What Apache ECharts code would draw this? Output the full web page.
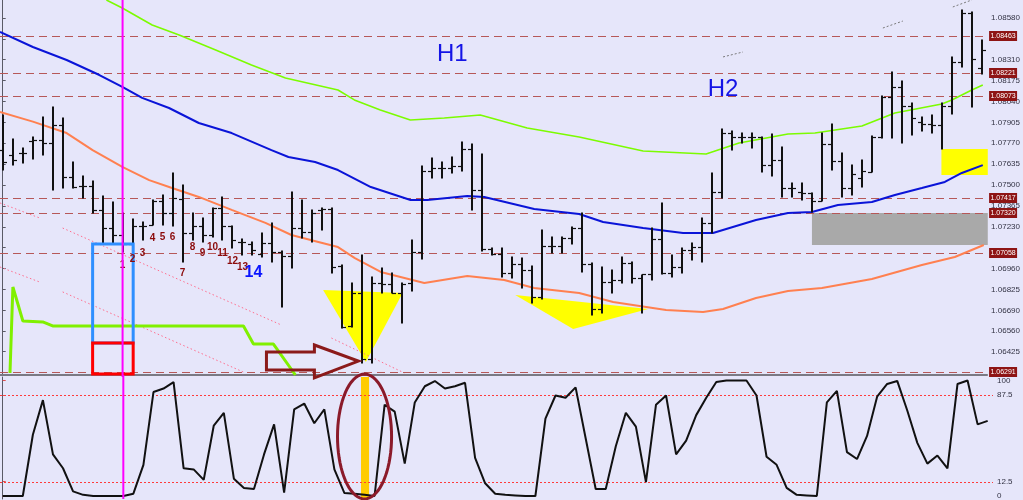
<!DOCTYPE html>
<html><head><meta charset="utf-8">
<script src="https://cdn.jsdelivr.net/npm/echarts@6/dist/echarts.min.js"></script>
<style>html,body{margin:0;padding:0;background:#e6e6fa;overflow:hidden}#c{width:1023px;height:500px}</style>
</head><body><div id="c"></div>
<script>
// ---------- DATA ----------
const opens = [1.07726,1.07694,1.07707,1.07785,1.07791,1.07772,1.07888,1.07552,1.07494,1.07494,
1.07339,1.07222,1.07177,1.07119,1.07235,1.07242,1.07397,1.07319,1.07410,1.07190,
1.07235,1.07177,1.07351,1.07235,1.07132,1.07119,1.07054,1.07125,1.07067,1.07041,
1.07222,1.07196,1.07339,1.07345,1.06977,1.06589,1.06802,1.06375,1.06867,1.06860,
1.06802,1.06867,1.07067,1.07591,1.07610,1.07610,1.07623,1.07733,1.07468,1.07086,
1.07054,1.06931,1.06989,1.06951,1.06776,1.07106,1.07106,1.07158,1.07222,1.06989,
1.06699,1.06873,1.06886,1.06996,1.06899,1.06925,1.07151,1.06931,1.06970,1.07080,
1.07099,1.07255,1.07455,1.07836,1.07810,1.07810,1.07810,1.07629,1.07662,1.07481,
1.07455,1.07448,1.07397,1.07765,1.07655,1.07481,1.07545,1.07584,1.07810,1.08069,
1.08134,1.08011,1.07907,1.07894,1.07888,1.08011,1.08295,1.08612,1.08256];
const highs = [1.07953,1.07798,1.07739,1.07810,1.07940,1.08004,1.07933,1.07649,1.07558,1.07526,
1.07429,1.07390,1.07319,1.07280,1.07261,1.07403,1.07436,1.07578,1.07500,1.07319,
1.07287,1.07351,1.07423,1.07235,1.07151,1.07132,1.07190,1.07255,1.07074,1.07455,
1.07403,1.07339,1.07351,1.07351,1.06983,1.06867,1.07048,1.06905,1.06964,1.06931,
1.06867,1.07145,1.07623,1.07675,1.07649,1.07681,1.07778,1.07765,1.07701,1.07093,
1.07093,1.07035,1.07028,1.06977,1.07209,1.07164,1.07164,1.07229,1.07319,1.06996,
1.06970,1.06951,1.07035,1.07002,1.06918,1.07222,1.07384,1.07048,1.07093,1.07125,
1.07287,1.07578,1.07862,1.07849,1.07836,1.07836,1.07810,1.07830,1.07746,1.07513,
1.07513,1.07448,1.07836,1.07894,1.07707,1.07629,1.07662,1.07817,1.08075,1.08231,
1.08172,1.08030,1.07940,1.07953,1.08030,1.08328,1.08631,1.08618,1.08437];
const lows = [1.07597,1.07629,1.07642,1.07668,1.07694,1.07468,1.07481,1.07481,1.07416,1.07319,
1.07125,1.07125,1.07067,1.07119,1.07145,1.07242,1.07242,1.07235,1.07002,1.07145,
1.07132,1.07164,1.07145,1.07093,1.07048,1.07048,1.07035,1.07002,1.06712,1.06964,
1.07158,1.07132,1.07209,1.06931,1.06576,1.06582,1.06350,1.06350,1.06802,1.06802,
1.06608,1.06815,1.07022,1.07545,1.07545,1.07578,1.07591,1.07339,1.07074,1.07048,
1.06905,1.06899,1.06834,1.06737,1.06763,1.07061,1.07061,1.07119,1.06938,1.06660,
1.06673,1.06802,1.06867,1.06867,1.06673,1.06886,1.06925,1.06905,1.06931,1.07015,
1.07002,1.07190,1.07416,1.07726,1.07772,1.07739,1.07584,1.07558,1.07423,1.07423,
1.07403,1.07326,1.07397,1.07597,1.07423,1.07436,1.07487,1.07584,1.07804,1.07804,
1.07772,1.07823,1.07849,1.07836,1.07733,1.07959,1.08263,1.08004,1.08218];
const closes = [1.07649,1.07662,1.07707,1.07791,1.07772,1.07888,1.07552,1.07487,1.07494,1.07339,
1.07222,1.07177,1.07119,1.07235,1.07235,1.07397,1.07319,1.07416,1.07190,1.07235,
1.07177,1.07351,1.07235,1.07145,1.07132,1.07080,1.07125,1.07067,1.07041,1.07222,
1.07196,1.07319,1.07345,1.06970,1.06582,1.06802,1.06375,1.06867,1.06860,1.06802,
1.06860,1.07067,1.07591,1.07610,1.07610,1.07623,1.07733,1.07468,1.07086,1.07054,
1.06931,1.06989,1.06951,1.06776,1.07106,1.07106,1.07158,1.07222,1.06989,1.06699,
1.06873,1.06886,1.06996,1.06899,1.06925,1.07151,1.06931,1.06970,1.07080,1.07099,
1.07255,1.07455,1.07836,1.07810,1.07810,1.07810,1.07629,1.07662,1.07481,1.07481,
1.07448,1.07397,1.07765,1.07655,1.07481,1.07571,1.07591,1.07810,1.08069,1.08134,
1.08011,1.07933,1.07894,1.07888,1.08011,1.08295,1.08612,1.08315,1.08373];
const stoch = [0,0,0,53,83,36,24,4,1,0,
0,0,0,2,27,90,93,98.5,24,23,
14,61,72,15,7,6,36,62,3,75,
80,63,75,23,2.5,2,1,0,79,73,
28,81,95,99.5,93,95,98,33,11,2,
1,0.5,0,0,67,87,85,94,50,6,
6,43,72,60,12,79,87,36,48,70,
85,98.7,100,100,100,87,34,27,7,1,
0.5,0,81,91,38,32,52,86,97,99.6,
74,46,28,35,24,97,100,62,65];

// moving averages: bar positions and values
const blueX = [-0.27,3.02,6.4,9.68,11.97,13.96,16.65,19.63,22.92,26.9,28.6,31.27,33.56,36.85,40.82,42.5,46.5,48.2,53.2,57.7,60.1,64.1,68.1,71.1,75.4,78.6,81.0,83.6,87.0,89.3,92.0,94.3,96.0,98.1];
const blueY = [1.08489,1.08392,1.08308,1.08211,1.08134,1.08063,1.07998,1.07901,1.07836,1.07726,1.07681,1.07649,1.07597,1.07487,1.07403,1.07403,1.07429,1.07423,1.07345,1.07313,1.07261,1.07222,1.07190,1.07190,1.07274,1.07319,1.07326,1.07371,1.07390,1.07436,1.07481,1.07520,1.07578,1.07629];
const greenX = [10.38,11.97,14.96,17.66,21.32,24.9,28.3,33.56,35.2,37.8,40.8,44.2,47.8,52.5,57.7,64.1,70.4,73.7,78.6,81.3,86.0,89.3,94.0,95.0,97.0,98.1];
const greenY = [1.08696,1.08644,1.08534,1.08470,1.08373,1.08276,1.08192,1.08114,1.08050,1.07985,1.07920,1.07933,1.07953,1.07869,1.07810,1.07720,1.07701,1.07772,1.07830,1.07836,1.07882,1.07966,1.08024,1.08050,1.08114,1.08147];
const orangeX = [-0.27,3.02,6.4,9.0,11.97,14.66,16.95,19.63,22.92,26.3,28.9,31.6,33.56,35.25,37.84,42.2,46.5,50.2,53.2,57.7,61.1,66.4,70.1,72.1,75.4,78.6,82.0,87.0,92.0,95.3,98.2];
const orangeY = [1.07972,1.07910,1.07836,1.07726,1.07617,1.07532,1.07481,1.07423,1.07339,1.07255,1.07177,1.07132,1.07099,1.07028,1.06938,1.06867,1.06912,1.06886,1.06834,1.06802,1.06744,1.06692,1.06679,1.06699,1.06770,1.06815,1.06834,1.06893,1.06983,1.07035,1.07112];
const stepX = [0.73,1.02,2.02,4.01,5.0,24.1,25.1,27.1,29.3];
const stepY = [1.06285,1.06841,1.06621,1.06615,1.06589,1.06589,1.06472,1.06472,1.06272];

// horizontal levels
const levelPrices = [1.08463,1.08221,1.08073,1.07417,1.07320,1.07058,1.06291];
const levelLabels = ['1.08463','1.08221','1.08073','1.07417','1.07320','1.07058','1.06291'];
// axis ticks
const priceTicks = [1.08580,1.08445,1.08310,1.08175,1.08040,1.07905,1.07770,1.07635,1.07500,1.07365,1.07230,1.07095,1.06960,1.06825,1.06690,1.06555,1.06425,1.06290];
const priceTickLabels = ['1.08580','','1.08310','1.08175','1.08040','1.07905','1.07770','1.07635','1.07500','1.07365','1.07230','','1.06960','1.06825','1.06690','1.06560','1.06425',''];
const oscTicks = [0,12.5,87.5,100];
const oscTickLabels = ['0','12.5','87.5','100'];
const oscLevels = [87.5,12.5];

// annotations (bar index, price)
const yellowTriangles = [[[32.07,1.06821],[40.03,1.06802],[36.35,1.06356]],[[51.3,1.06789],[64.6,1.06699],[57.1,1.06569]]];
const yellowBox = [93.96,1.07733,98.6,1.07565];
const grayBox = [81.0,1.07319,98.6,1.07112];
const blueBox = [9.0,1.07119,13.06,1.06479];
const redBox = [9.0,1.06479,13.06,1.06279];
const arrowShape = [[26.4,1.06421],[31.2,1.06421],[31.2,1.06466],[35.6,1.06362],[31.2,1.06253],[31.2,1.06304],[26.4,1.06304]];
const pinkLines = [[[-0.27,1.07384],[3.7,1.07287]],[[6.0,1.07222],[27.9,1.06595]],[[-0.27,1.06970],[3.7,1.06873]],[[6.0,1.06809],[24.3,1.06285]],[[32.9,1.06511],[40.2,1.06285]]];
const grayDots = [[[72.1,1.08328],[74.1,1.08360]],[[88.1,1.08515],[90.1,1.08560]],[[95.1,1.08651],[97.0,1.08696]]];
const countLabels = ['1','2','3','4','5','6','7','8','9','10','11','12','13'];
const countX = [12,13,14,15,16,17,18,19,20,21,22,23,24];
const countY = [1.06983,1.07022,1.07061,1.07158,1.07164,1.07164,1.06931,1.07099,1.07061,1.07099,1.07061,1.07009,1.06970];
const bigCount = ['14', 25.1, 1.06931];
const waveLabels = ['H1','H2'];
const waveX = [45.0,72.1];
const waveY = [1.08347,1.08121];
const markerBar = 12;
const goldBar = [35.65,103,36.45,-2.6];
const ellipse = [36.0,51.5,2.69,54]; // center x, center value, radius x, radius y (osc units)

// ---------- BUILD ----------
const X_MIN = -0.27, X_MAX = 98.53;
const ohlc = opens.map((o,i)=>[i,o,highs[i],lows[i],closes[i]]);
const pairs = (xs,ys)=>xs.map((x,i)=>[x,ys[i]]);
const FONT = 'Liberation Sans, Arial, sans-serif';

function ohlcItem(params, api){
  const x = api.value(0);
  const o = api.coord([x, api.value(1)]);
  const h = api.coord([x, api.value(2)]);
  const l = api.coord([x, api.value(3)]);
  const c = api.coord([x, api.value(4)]);
  const cx = Math.round(h[0]);
  const st = {stroke:'#111', lineWidth:2};
  return {type:'group', children:[
    {type:'line', shape:{x1:cx,y1:h[1]-0.5,x2:cx,y2:l[1]+0.5}, style:st},
    {type:'line', shape:{x1:cx-4,y1:Math.round(o[1])+0.5,x2:cx,y2:Math.round(o[1])+0.5}, style:{stroke:'#111',lineWidth:1.2}},
    {type:'line', shape:{x1:cx,y1:Math.round(c[1])+0.5,x2:cx+4,y2:Math.round(c[1])+0.5}, style:{stroke:'#111',lineWidth:1.2}}
  ]};
}
function rectOf(b, api){
  const a = api.coord([b[0],b[1]]), c = api.coord([b[2],b[3]]);
  return {x:a[0], y:a[1], width:c[0]-a[0], height:c[1]-a[1]};
}
function levelItem(params, api){
  const v = api.value(1);
  const a = api.coord([X_MIN, v]), b = api.coord([X_MAX, v]);
  const y = Math.round(a[1]) + 0.5;
  const lbl = levelLabels[params.dataIndex];
  return {type:'group', children:[
    {type:'line', shape:{x1:a[0],y1:y,x2:b[0],y2:y}, style:{stroke:'#b65858', lineWidth:1, lineDash:[8,5]}},
    {type:'rect', shape:{x:b[0]+2, y:y-5.5, width:28, height:10}, style:{fill:'#8e1414'}},
    {type:'text', x:b[0]+16, y:y, style:{text:lbl, fill:'#ffffff', font:'7px '+FONT, align:'center', verticalAlign:'middle'}}
  ]};
}
function fillShapes(params, api){
  const ch = [];
  ch.push({type:'rect', shape:rectOf(grayBox,api), style:{fill:'#a9a9a9'}});
  ch.push({type:'rect', shape:rectOf(yellowBox,api), style:{fill:'#ffff00'}});
  yellowTriangles.forEach(t=>ch.push({type:'polygon', shape:{points:t.map(p=>api.coord(p))}, style:{fill:'#ffff00'}}));
  pinkLines.forEach(l=>ch.push({type:'polyline', shape:{points:l.map(p=>api.coord(p))}, style:{stroke:'#ff6f8f', lineWidth:1, lineDash:[1.5,2.5], fill:null}}));
  grayDots.forEach(l=>ch.push({type:'polyline', shape:{points:l.map(p=>api.coord(p))}, style:{stroke:'#7a7a7a', lineWidth:1, lineDash:[2,2], fill:null}}));
  return {type:'group', children:ch};
}
function topShapes(params, api){
  const ch = [];
  ch.push({type:'rect', shape:rectOf(blueBox,api), style:{fill:null, stroke:'#2f8fff', lineWidth:3}});
  ch.push({type:'rect', shape:rectOf(redBox,api), style:{fill:null, stroke:'#ff0000', lineWidth:3}});
  ch.push({type:'polygon', shape:{points:arrowShape.map(p=>api.coord(p))}, style:{fill:null, stroke:'#8b1a1a', lineWidth:3}});
  countLabels.forEach((t,i)=>{
    const p = api.coord([countX[i], countY[i]]);
    ch.push({type:'text', x:p[0], y:p[1], style:{text:t, fill:'#8b0a0a', font:'bold 10px '+FONT, align:'center', verticalAlign:'middle'}});
  });
  const bp = api.coord([bigCount[1], bigCount[2]]);
  ch.push({type:'text', x:bp[0], y:bp[1], style:{text:bigCount[0], fill:'#0a14ff', font:'bold 16px '+FONT, align:'center', verticalAlign:'middle'}});
  waveLabels.forEach((t,i)=>{
    const p = api.coord([waveX[i], waveY[i]]);
    ch.push({type:'text', x:p[0], y:p[1], style:{text:t, fill:'#1414e6', font:'24px '+FONT, align:'center', verticalAlign:'middle'}});
  });
  return {type:'group', children:ch};
}
function oscLevelItem(params, api){
  const v = api.value(1);
  const a = api.coord([X_MIN, v]), b = api.coord([X_MAX, v]);
  const y = Math.round(a[1]) + 0.5;
  return {type:'line', shape:{x1:a[0],y1:y,x2:b[0],y2:y}, style:{stroke:'#ff3b3b', lineWidth:1, lineDash:[2,2]}};
}
function oscBack(params, api){
  return {type:'rect', shape:rectOf(goldBar, api), style:{fill:'#ffcc00'}};
}
function oscFront(params, api){
  const c = api.coord([ellipse[0], ellipse[1]]);
  const s = api.size([ellipse[2], ellipse[3]]);
  const pts = [];
  for(let k=0;k<72;k++){const a=k/72*Math.PI*2; pts.push([c[0]+s[0]*Math.cos(a), c[1]+s[1]*Math.sin(a)]);}
  return {type:'polygon', shape:{points:pts}, style:{fill:null, stroke:'#8b1a2a', lineWidth:3}};
}
function vlineMain(params, api){
  const a = api.coord([markerBar, 1.08696]), b = api.coord([markerBar, 1.06272]);
  return {type:'line', shape:{x1:a[0],y1:a[1],x2:b[0],y2:b[1]+2}, style:{stroke:'#ff00ff', lineWidth:2}};
}
function vlineOsc(params, api){
  const a = api.coord([markerBar, 103]), b = api.coord([markerBar, -2.6]);
  return {type:'line', shape:{x1:a[0],y1:a[1]-2,x2:b[0],y2:b[1]}, style:{stroke:'#ff00ff', lineWidth:2}};
}
function findLabel(v, ticks, labels){
  for(let i=0;i<ticks.length;i++){ if(Math.abs(ticks[i]-v)<1e-7) return labels[i]; }
  return '';
}

const chart = echarts.init(document.getElementById('c'), null, {renderer:'canvas'});
chart.setOption({
  animation:false,
  backgroundColor:'#e6e6fa',
  grid:[{left:0,right:30,top:0,bottom:125},{left:0,right:30,top:377,bottom:0}],
  xAxis:[
    {type:'value', gridIndex:0, min:X_MIN, max:X_MAX, axisLine:{show:true,onZero:false,lineStyle:{color:'#7a7a84',width:2}}, axisTick:{show:false}, axisLabel:{show:false}, splitLine:{show:false}},
    {type:'value', gridIndex:1, min:X_MIN, max:X_MAX, show:false, splitLine:{show:false}}
  ],
  yAxis:[
    {type:'value', gridIndex:0, position:'right', min:1.06272, max:1.08696,
     axisLine:{show:true, lineStyle:{color:'#5a5a66', width:1}},
     axisTick:{show:true, length:3, customValues:priceTicks, lineStyle:{color:'#5a5a66'}},
     axisLabel:{customValues:priceTicks.filter((v,i)=>priceTickLabels[i]!==''), formatter:v=>findLabel(v,priceTicks,priceTickLabels), fontSize:8, color:'#333344', margin:4, fontFamily:FONT},
     splitLine:{show:false}},
    {type:'value', gridIndex:1, position:'right', min:-2.6, max:103,
     axisLine:{show:true, lineStyle:{color:'#5a5a66', width:1}},
     axisTick:{show:true, length:3, customValues:oscTicks, lineStyle:{color:'#e05050'}},
     axisLabel:{customValues:oscTicks, formatter:v=>findLabel(v,oscTicks,oscTickLabels), fontSize:8, color:'#333344', margin:4, fontFamily:FONT},
     splitLine:{show:false}}
  ],
  series:[
    {type:'custom', name:'zones', xAxisIndex:0, yAxisIndex:0, z:1, clip:false, data:[[0,1.07]], renderItem:fillShapes, silent:true},
    {type:'custom', name:'levels', xAxisIndex:0, yAxisIndex:0, z:2, clip:false, data:levelPrices.map(v=>[0,v]), renderItem:levelItem, silent:true},
    {type:'line', name:'ma-upper', xAxisIndex:0, yAxisIndex:0, z:3, data:pairs(greenX,greenY), symbol:'none', lineStyle:{color:'#7cfc00', width:1.6}},
    {type:'line', name:'ma-mid', xAxisIndex:0, yAxisIndex:0, z:3, data:pairs(blueX,blueY), symbol:'none', lineStyle:{color:'#0a14d8', width:2}},
    {type:'line', name:'ma-lower', xAxisIndex:0, yAxisIndex:0, z:3, data:pairs(orangeX,orangeY), symbol:'none', lineStyle:{color:'#ff8050', width:2}},
    {type:'custom', name:'ohlc', xAxisIndex:0, yAxisIndex:0, z:5, data:ohlc, encode:{x:0,y:[1,2,3,4]}, renderItem:ohlcItem, silent:true},
    {type:'line', name:'step', xAxisIndex:0, yAxisIndex:0, z:6, data:pairs(stepX,stepY), symbol:'none', lineStyle:{color:'#80f000', width:3}},
    {type:'custom', name:'marks', xAxisIndex:0, yAxisIndex:0, z:7, clip:false, data:[[0,1.07]], renderItem:topShapes, silent:true},
    {type:'custom', name:'vline', xAxisIndex:0, yAxisIndex:0, z:8, clip:false, data:[[markerBar,1.07]], renderItem:vlineMain, silent:true},
    {type:'custom', name:'gold', xAxisIndex:1, yAxisIndex:1, z:1, clip:false, data:[[36,50]], renderItem:oscBack, silent:true},
    {type:'custom', name:'osclevels', xAxisIndex:1, yAxisIndex:1, z:2, data:oscLevels.map(v=>[0,v]), renderItem:oscLevelItem, silent:true},
    {type:'line', name:'stoch', xAxisIndex:1, yAxisIndex:1, z:4, data:stoch.map((v,i)=>[i,v]), symbol:'none', lineStyle:{color:'#111', width:2}},
    {type:'custom', name:'ellipse', xAxisIndex:1, yAxisIndex:1, z:6, clip:false, data:[[36,50]], renderItem:oscFront, silent:true},
    {type:'custom', name:'vline2', xAxisIndex:1, yAxisIndex:1, z:8, clip:false, data:[[markerBar,50]], renderItem:vlineOsc, silent:true}
  ]
});
</script>
</body></html>
